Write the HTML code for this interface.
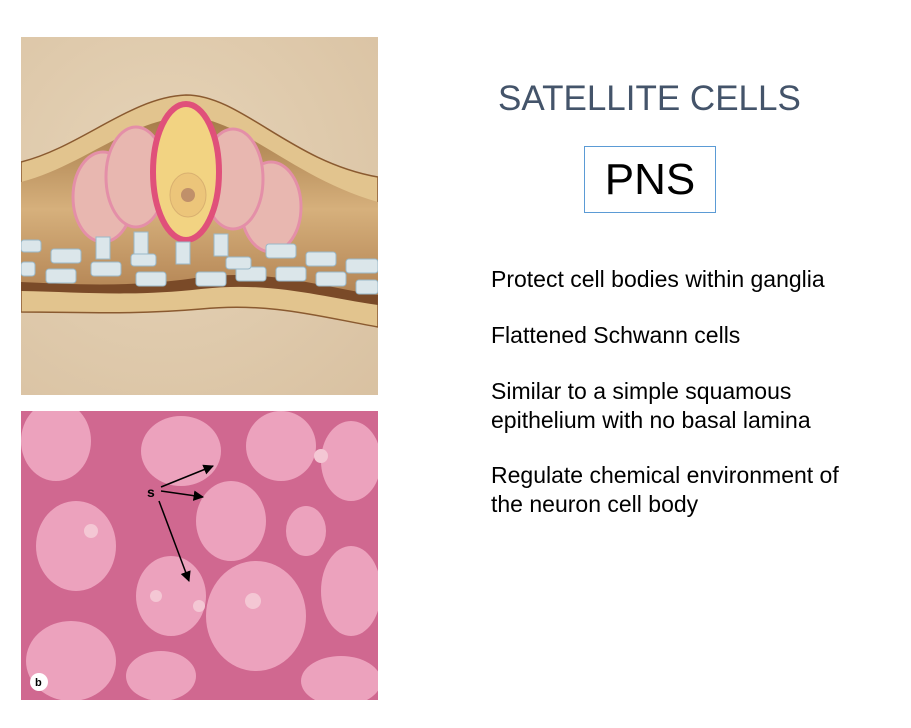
<!DOCTYPE html>
<html><head><meta charset="utf-8"><style>
body{margin:0;width:911px;height:728px;background:#fff;position:relative;overflow:hidden;font-family:"Liberation Sans",sans-serif}
.abs{position:absolute}
.b{position:absolute;left:491px;font-size:23px;color:#000;line-height:29px;white-space:nowrap}
</style></head><body>
<svg class="abs" style="left:21px;top:37px" width="357" height="358" viewBox="0 0 357 358">
<defs>
<radialGradient id="bg" cx="0.4" cy="0.4" r="0.9"><stop offset="0" stop-color="#e6d4b8"/><stop offset="1" stop-color="#d8c0a0"/></radialGradient>
<linearGradient id="inner" x1="0" y1="0" x2="0" y2="1"><stop offset="0" stop-color="#a57a48"/><stop offset="0.5" stop-color="#d6b07c"/><stop offset="1" stop-color="#b08050"/></linearGradient>
</defs>
<rect width="357" height="358" fill="url(#bg)"/>
<path d="M0,125 C60,110 110,60 165,58 C220,58 270,125 357,140 L357,290 C300,280 250,265 180,272 C110,278 60,275 0,275 Z" fill="#e2c48e" stroke="#8a5a30" stroke-width="1.5"/>
<path d="M0,145 C60,130 110,82 165,80 C220,80 270,140 357,165 L357,265 C300,255 250,240 180,246 C110,252 60,250 0,250 Z" fill="url(#inner)"/>
<path d="M0,245 C60,248 120,250 180,240 C250,232 300,250 357,258 L357,268 C300,260 250,244 180,252 C110,260 60,255 0,254Z" fill="#7a4a28"/>
<g fill="#e8b7b0" stroke="#e48fa8" stroke-width="3">
<ellipse cx="82" cy="160" rx="30" ry="45"/>
<ellipse cx="250" cy="170" rx="30" ry="45"/>
<ellipse cx="115" cy="140" rx="30" ry="50"/>
<ellipse cx="212" cy="142" rx="30" ry="50"/>
</g>
<ellipse cx="165" cy="135" rx="33" ry="68" fill="#f2d382" stroke="#e0507a" stroke-width="6"/>
<ellipse cx="167" cy="158" rx="18" ry="22" fill="#ecc57a" stroke="#d9b070"/>
<circle cx="167" cy="158" r="7" fill="#c0906a"/>
<g fill="#dbe6ea" stroke="#9ab8c8">
<rect x="75" y="200" width="14" height="22"/><rect x="113" y="195" width="14" height="22"/><rect x="155" y="205" width="14" height="22"/><rect x="193" y="197" width="14" height="22"/>
<rect x="0" y="203" width="20" height="12" rx="3"/><rect x="30" y="212" width="30" height="14" rx="3"/><rect x="25" y="232" width="30" height="14" rx="3"/><rect x="70" y="225" width="30" height="14" rx="3"/><rect x="115" y="235" width="30" height="14" rx="3"/><rect x="0" y="225" width="14" height="14" rx="3"/>
<rect x="175" y="235" width="30" height="14" rx="3"/><rect x="215" y="230" width="30" height="14" rx="3"/><rect x="255" y="230" width="30" height="14" rx="3"/><rect x="295" y="235" width="30" height="14" rx="3"/><rect x="335" y="243" width="22" height="14" rx="3"/>
<rect x="245" y="207" width="30" height="14" rx="3"/><rect x="285" y="215" width="30" height="14" rx="3"/><rect x="325" y="222" width="32" height="14" rx="3"/><rect x="110" y="217" width="25" height="12" rx="3"/><rect x="205" y="220" width="25" height="12" rx="3"/>
</g>
</svg>
<svg class="abs" style="left:21px;top:411px" width="357" height="289" viewBox="0 0 357 289">
<defs><marker id="ah" viewBox="0 0 10 10" refX="9" refY="5" markerWidth="7" markerHeight="7" orient="auto"><path d="M0,0 L10,5 L0,10Z" fill="#000"/></marker></defs>
<rect width="357" height="289" fill="#d06890"/>
<g fill="#eca2bd">
<ellipse cx="35" cy="30" rx="35" ry="40"/><ellipse cx="55" cy="135" rx="40" ry="45"/><ellipse cx="50" cy="250" rx="45" ry="40"/>
<ellipse cx="160" cy="40" rx="40" ry="35"/><ellipse cx="210" cy="110" rx="35" ry="40"/><ellipse cx="150" cy="185" rx="35" ry="40"/>
<ellipse cx="235" cy="205" rx="50" ry="55"/><ellipse cx="260" cy="35" rx="35" ry="35"/><ellipse cx="330" cy="50" rx="30" ry="40"/>
<ellipse cx="330" cy="180" rx="30" ry="45"/><ellipse cx="140" cy="265" rx="35" ry="25"/><ellipse cx="320" cy="270" rx="40" ry="25"/><ellipse cx="285" cy="120" rx="20" ry="25"/>
</g>
<g fill="#f4c7d4"><circle cx="70" cy="120" r="7"/><circle cx="232" cy="190" r="8"/><circle cx="178" cy="195" r="6"/><circle cx="135" cy="185" r="6"/><circle cx="300" cy="45" r="7"/></g>
<g stroke="#000" stroke-width="1.5" marker-end="url(#ah)"><path d="M140,76 L192,55"/><path d="M140,80 L182,86"/><path d="M138,90 L168,170"/></g>
<text x="126" y="86" font-family="Liberation Sans" font-weight="bold" font-size="14" fill="#000">s</text>
<circle cx="18" cy="271" r="9" fill="#fff"/><text x="14" y="275" font-family="Liberation Sans" font-weight="bold" font-size="11">b</text>
</svg>
<div class="abs" style="left:498px;top:79px;font-size:35px;color:#44546a;white-space:nowrap">SATELLITE CELLS</div>
<div class="abs" style="left:584px;top:146px;width:132px;height:67px;border:1px solid #5b9bd5;box-sizing:border-box;font-size:44px;text-align:center;line-height:65px">PNS</div>
<div class="b" style="top:265px">Protect cell bodies within ganglia</div>
<div class="b" style="top:321px">Flattened Schwann cells</div>
<div class="b" style="top:377px">Similar to a simple squamous<br>epithelium with no basal lamina</div>
<div class="b" style="top:461px">Regulate chemical environment of<br>the neuron cell body</div>
</body></html>
